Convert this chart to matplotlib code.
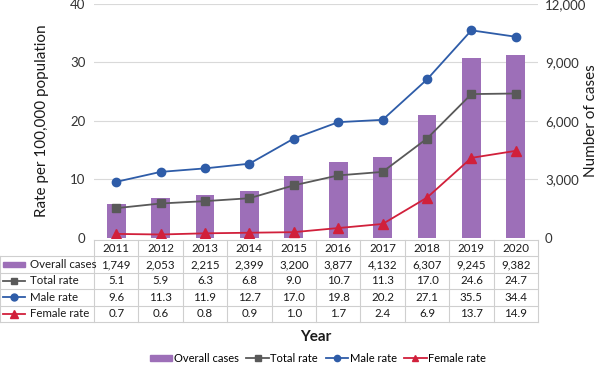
import matplotlib
matplotlib.use("Agg")
import matplotlib.pyplot as plt
from matplotlib.lines import Line2D
from matplotlib.patches import Rectangle

plt.rcParams['font.family'] = ['Lato', 'DejaVu Sans']

years = [2011, 2012, 2013, 2014, 2015, 2016, 2017, 2018, 2019, 2020]
overall_cases = [1749, 2053, 2215, 2399, 3200, 3877, 4132, 6307, 9245, 9382]
total_rate = [5.1, 5.9, 6.3, 6.8, 9.0, 10.7, 11.3, 17.0, 24.6, 24.7]
male_rate = [9.6, 11.3, 11.9, 12.7, 17.0, 19.8, 20.2, 27.1, 35.5, 34.4]
female_rate = [0.7, 0.6, 0.8, 0.9, 1.0, 1.7, 2.4, 6.9, 13.7, 14.9]
left_ticks = [0, 10, 20, 30, 40]
right_ticks = [0, 3000, 6000, 9000, 12000]

c_bar = '#9d6fb8'
c_total = '#595959'
c_male = '#2e5ca8'
c_female = '#d1203b'
c_grid = '#d9d9d9'
c_txt = '#1a1a1a'

W, H = 600, 366
fig = plt.figure(figsize=(6, 3.66), dpi=100)

axl, axr, axb, axt = 94, 538, 238, 4
ax = fig.add_axes([axl / W, 1 - axb / H, (axr - axl) / W, (axb - axt) / H])
ax2 = ax.twinx()
ax.set_zorder(2)
ax.patch.set_visible(False)
ax2.set_zorder(1)

x = list(range(len(years)))
ax2.bar(x, overall_cases, width=0.42, color=c_bar, zorder=2)
ax2.set_ylim(0, 12000)
ax2.set_yticks(right_ticks)
ax2.set_yticklabels([f"{v:,}" for v in right_ticks])

ax.plot(x, total_rate, color=c_total, marker='s', ms=6, lw=1.3, zorder=3)
ax.plot(x, male_rate, color=c_male, marker='o', ms=6, lw=1.3, zorder=3)
ax.plot(x, female_rate, color=c_female, marker='^', ms=6.5, lw=1.3, zorder=3)
ax.set_ylim(0, 40)
ax.set_yticks(left_ticks)
ax.set_xlim(-0.5, len(years) - 0.5)
ax.set_xticks([])
for t in left_ticks[1:]:
    ax2.axhline(t * 300, color=c_grid, lw=0.8, zorder=0)

for a in (ax, ax2):
    for s in a.spines.values():
        s.set_visible(False)
    a.tick_params(length=0, labelsize=9.5, colors='#333333')
ax.tick_params(axis='y', pad=6)
ax2.tick_params(axis='y', pad=5)

mid_y = 1 - (axb + axt) / 2 / H
fig.text(42 / W, mid_y, "Rate per 100,000 population", rotation=90, ha='center', va='center',
         fontsize=11, color=c_txt)
fig.text(591 / W, mid_y, "Number of cases", rotation=90, ha='center', va='center',
         fontsize=11, color=c_txt)

# table
colw = (axr - axl) / len(years)
lab_units = axl / colw
tb_top, tb_bot = 240, 322
tax = fig.add_axes([0, 1 - tb_bot / H, axr / W, (tb_bot - tb_top) / H])
tax.set_xlim(-0.5 - lab_units, len(years) - 0.5)
tax.set_ylim(5, 0)
tax.axis('off')
gc = '#cfcfcf'
x0 = -0.5 - lab_units
x1 = len(years) - 0.5
tax.plot([-0.5, x1], [0, 0], color=gc, lw=0.8, clip_on=False)
for r in range(1, 6):
    tax.plot([x0, x1], [r, r], color=gc, lw=0.8, clip_on=False)
for i in range(len(years) + 1):
    tax.plot([i - 0.5, i - 0.5], [0, 5], color=gc, lw=0.8, clip_on=False)
tax.plot([x0, x0], [1, 5], color=gc, lw=0.8, clip_on=False)

rows = [
    ("Overall cases", [f"{v:,}" for v in overall_cases]),
    ("Total rate", [f"{v:.1f}" for v in total_rate]),
    ("Male rate", [f"{v:.1f}" for v in male_rate]),
    ("Female rate", [f"{v:.1f}" for v in female_rate]),
]
for i, y in enumerate(years):
    tax.text(i, 0.5, str(y), ha='center', va='center', fontsize=8.3, color=c_txt)
for r, (lab, vals) in enumerate(rows, start=1):
    for i, v in enumerate(vals):
        tax.text(i, r + 0.5, v, ha='center', va='center', fontsize=8.3, color=c_txt)
    tax.text(x0 + 30 / colw, r + 0.5, lab, ha='left', va='center', fontsize=8.3, color=c_txt)

mx0, mx1 = x0 + 3 / colw, x0 + 25 / colw
tax.add_patch(Rectangle((mx0, 1.34), mx1 - mx0, 0.32, color=c_bar, clip_on=False))
for r, col, mk, ms in [(2, c_total, 's', 5), (3, c_male, 'o', 5), (4, c_female, '^', 5.5)]:
    tax.plot([mx0, mx1], [r + 0.5, r + 0.5], color=col, lw=1.3, clip_on=False)
    tax.plot([(mx0 + mx1) / 2], [r + 0.5], color=col, marker=mk, ms=ms, clip_on=False)

fig.text((axl + axr) / 2 / W, 1 - 337 / H, "Year", ha='center', va='center',
         fontsize=11, fontweight='bold', color=c_txt)

handles = [
    Rectangle((0, 0), 1, 1, color=c_bar),
    Line2D([], [], color=c_total, marker='s', ms=4.5, lw=1.3),
    Line2D([], [], color=c_male, marker='o', ms=4.5, lw=1.3),
    Line2D([], [], color=c_female, marker='^', ms=5, lw=1.3),
]
labels = ["Overall cases", "Total rate", "Male rate", "Female rate"]
fig.legend(handles, labels, loc='center', bbox_to_anchor=(318 / W, 1 - 358 / H), ncol=4,
           frameon=False, fontsize=8, handlelength=2.0, handleheight=0.45,
           columnspacing=0.7, handletextpad=0.15, borderaxespad=0, borderpad=0)

fig.savefig("out.png", dpi=100)
